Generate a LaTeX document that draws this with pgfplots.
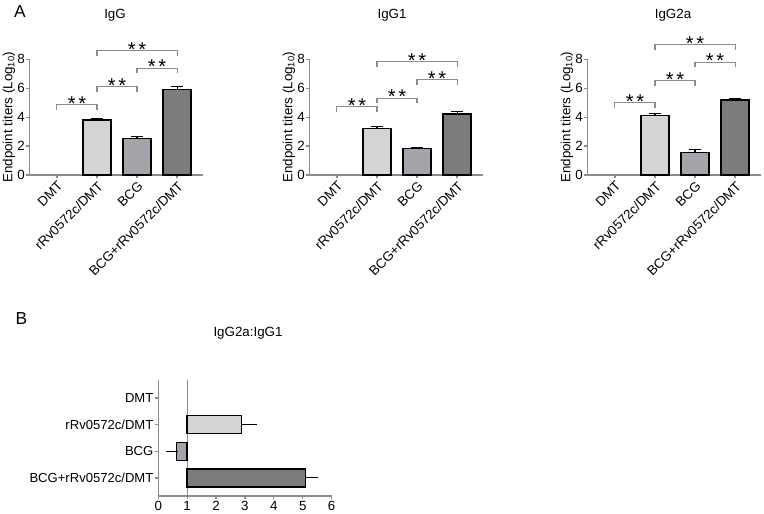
\documentclass[border=0pt]{standalone}
\usepackage{pgfplots}
\pgfplotsset{compat=1.18}
\usepackage{fontspec}
\setmainfont{Liberation Sans}
\definecolor{cL}{HTML}{D4D4D4}
\definecolor{cM}{HTML}{A4A4AA}
\definecolor{cD}{HTML}{7C7C7C}
\definecolor{axg}{HTML}{8C8C8C}
\newcommand{\fs}{\fontsize{10}{12}\selectfont}
\pgfplotsset{
  common/.style={
    scale only axis, clip=false,
    axis x line*=bottom, axis y line*=left,
    axis line style={axg, line width=0.9pt},
    tick style={axg, line width=0.9pt},
    tick align=outside, major tick length=2.5pt,
    tick label style={font=\fs},
    label style={font=\fs},
    /pgf/number format/assume math mode=true,
  },
  panelA/.style={
    common,
    width=130.3pt, height=86.8pt,
    xmin=-0.69, xmax=3.65, ymin=0, ymax=8,
    xtick={0,1,2,3},
    xticklabels={DMT,rRv0572c/DMT,BCG,BCG+rRv0572c/DMT},
    x tick label style={rotate=45, anchor=north east, inner sep=1pt},
    y tick label style={inner sep=0.8pt},
    ytick={0,2,4,6,8},
    ylabel={Endpoint titers (Log\textsubscript{10})},
    every axis y label/.style={at={(axis description cs:-0.118,0.5)}, rotate=90, anchor=center},
  },
  vbar/.style={ybar, bar width=0.7, bar shift=0pt, fill=#1, draw=black, line width=1pt,
    error bars/.cd, y dir=plus, y explicit,
    error bar style={black, line width=0.8pt},
    error mark options={rotate=90, mark size=4.5pt, black, line width=0.8pt}},
  herr/.style={draw=none, mark=none, forget plot,
    error bars/.cd, x dir=#1, x explicit,
    error bar style={draw=black, line width=0.8pt},
    error mark options={draw=black, mark size=4.5pt, line width=0.8pt}},
}
\newcommand{\brk}[3]{%
  \draw[axg, line width=0.8pt] (axis cs:#1,#3-0.35) -- (axis cs:#1,#3) -- (axis cs:#2,#3) -- (axis cs:#2,#3-0.35);
  \node[anchor=base, inner sep=0pt, yshift=-4.2pt, font=\fontsize{15}{16}\selectfont] at (axis cs:{(#1+#2)/2},#3) {*\hspace{2pt}*};%
}
\begin{document}
\begin{tikzpicture}
\path[use as bounding box] (0,0) rectangle (573pt,385.5pt);
\node[font=\fontsize{13}{14}\selectfont] at (15pt,377pt) {A};
\node[font=\fontsize{13}{14}\selectfont] at (16pt,146.6pt) {B};
\node[font=\fs] at (86.25pt,374.25pt) {IgG};
\node[font=\fs] at (294pt,374.25pt) {IgG1};
\node[font=\fs] at (504.75pt,374.25pt) {IgG2a};
\node[font=\fs] at (186pt,135.75pt) {IgG2a:IgG1};

% IgG
\begin{axis}[panelA, at={(22pt,254.25pt)}, anchor=south west]
\addplot[vbar=cL] coordinates {(1,3.8) +- (0,0.1)};
\addplot[vbar=cM] coordinates {(2,2.5) +- (0,0.15)};
\addplot[vbar=cD] coordinates {(3,5.9) +- (0,0.2)};
\brk{0}{1}{4.85}
\brk{1}{2}{6.1}
\brk{2}{3}{7.38}
\brk{1}{3}{8.6}
\end{axis}

% IgG1
\begin{axis}[panelA, at={(232pt,254.25pt)}, anchor=south west]
\addplot[vbar=cL] coordinates {(1,3.22) +- (0,0.15)};
\addplot[vbar=cM] coordinates {(2,1.85) +- (0,0.08)};
\addplot[vbar=cD] coordinates {(3,4.22) +- (0,0.2)};
\brk{0}{1}{4.72}
\brk{1}{2}{5.3}
\brk{2}{3}{6.57}
\brk{1}{3}{7.84}
\end{axis}

% IgG2a
\begin{axis}[panelA, at={(440.5pt,254.25pt)}, anchor=south west]
\addplot[vbar=cL] coordinates {(1,4.1) +- (0,0.12)};
\addplot[vbar=cM] coordinates {(2,1.57) +- (0,0.2)};
\addplot[vbar=cD] coordinates {(3,5.18) +- (0,0.12)};
\brk{0}{1}{5.0}
\brk{1}{2}{6.5}
\brk{2}{3}{7.8}
\brk{1}{3}{9.0}
\end{axis}

% IgG2a:IgG1
\begin{axis}[common, at={(118.7pt,13.5pt)}, anchor=south west,
  width=130pt, height=87pt,
  xmin=0, xmax=6, ymin=-0.68, ymax=3.68, y dir=reverse,
  xtick={0,1,2,3,4,5,6},
  ytick={0,1,2,3},
  yticklabels={DMT,rRv0572c/DMT,BCG,BCG+rRv0572c/DMT},
  y tick label style={inner sep=1pt, font=\fontsize{9.8}{12}\selectfont},
  x tick label style={inner sep=1.5pt},
]
\addplot[axg, line width=0.8pt] coordinates {(1,-0.68) (1,3.68)};
\addplot[fill=cL, draw=black, line width=1pt] coordinates {(1,0.66) (2.88,0.66) (2.88,1.34) (1,1.34)} -- cycle;
\addplot[fill=cM, draw=black, line width=1pt] coordinates {(0.64,1.66) (1,1.66) (1,2.34) (0.64,2.34)} -- cycle;
\addplot[fill=cD, draw=black, line width=1pt] coordinates {(1,2.66) (5.1,2.66) (5.1,3.34) (1,3.34)} -- cycle;
\addplot[herr=plus] coordinates {(2.88,1) +- (0.33,0)};
\addplot[herr=minus] coordinates {(0.64,2) +- (0.16,0)};
\addplot[herr=plus] coordinates {(5.1,3) +- (0.23,0)};
\end{axis}
\end{tikzpicture}
\end{document}
